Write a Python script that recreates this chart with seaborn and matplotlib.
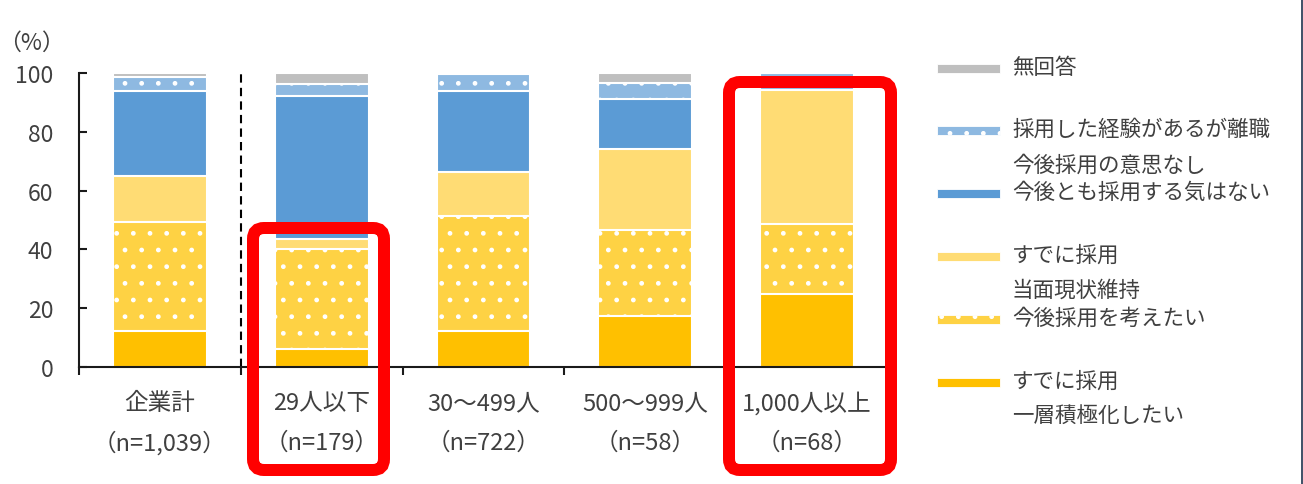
import numpy as np
import matplotlib
matplotlib.use("Agg")
import matplotlib.pyplot as plt
from matplotlib.patches import FancyBboxPatch, Rectangle
from matplotlib.lines import Line2D
from matplotlib.transforms import IdentityTransform, blended_transform_factory
import seaborn as sns

# ---- data -------------------------------------------------------------
categories = ["企業計", "29人以下", "30～499人", "500～999人", "1,000人以上"]
sample_sizes = ["（n=1,039）", "（n=179）", "（n=722）", "（n=58）", "（n=68）"]

# shares (%) from the bottom of each bar to the top
adopted_more = [12.3, 6.1, 12.3, 17.2, 25.0]      # すでに採用・一層積極化したい
considering = [36.9, 34.1, 39.2, 29.3, 23.5]      # 当面現状維持・今後採用を考えたい
adopted_keep = [15.9, 3.4, 14.9, 27.6, 45.6]      # すでに採用（現状維持）
no_intention = [28.8, 48.6, 27.6, 17.2, 0.0]      # 今後とも採用する気はない
left_job = [4.6, 3.9, 5.5, 5.2, 5.9]              # 採用した経験があるが離職
no_answer = [1.5, 3.9, 0.5, 3.4, 0.0]             # 無回答

series = [adopted_more, considering, adopted_keep, no_intention, left_job, no_answer]
colors = ["#ffc000", "#fed244", "#ffdc74", "#5b9bd5", "#8eb9e1", "#bfbfbf"]
hatches = [None, ".", None, None, ".", None]

y_ticks = [0, 20, 40, 60, 80, 100]

legend_lines = [
    ["無回答"],
    ["採用した経験があるが離職"],
    ["今後採用の意思なし", "今後とも採用する気はない"],
    ["すでに採用"],
    ["当面現状維持", "今後採用を考えたい"],
    ["すでに採用", "一層積極化したい"],
]
legend_colors = ["#bfbfbf", "#8eb9e1", "#5b9bd5", "#ffdc74", "#fed244", "#ffc000"]
legend_hatches = [None, ".", None, None, ".", None]

# ---- style ------------------------------------------------------------
sns.set_theme(style="white")
plt.rcParams["font.family"] = ["Noto Sans CJK JP", "DejaVu Sans"]
TEXT = "#404040"
W, H = 1303, 485

fig = plt.figure(figsize=(W / 100, H / 100), dpi=100)
ax = fig.add_axes([79 / W, 1 - 368 / H, (888 - 79) / W, (368 - 74) / H])

# stacked bars: draw cumulative totals, tallest first
cum = np.cumsum(np.array(series), axis=0)
for i in range(len(series) - 1, -1, -1):
    sns.barplot(x=categories, y=cum[i], order=categories, color=colors[i],
                saturation=1, width=0.58, edgecolor="white", linewidth=1.5,
                hatch=hatches[i], ax=ax)

ax.set_xlim(-0.5, len(categories) - 0.5)
ax.set_ylim(0, 100)
ax.set_yticks(y_ticks)
ax.set_yticklabels([str(t) for t in y_ticks])
ax.set_xticks(np.arange(len(categories) + 1) - 0.5)
ax.set_xticklabels([])
ax.set_xlabel("")
ax.set_ylabel("")

for side in ["top", "right"]:
    ax.spines[side].set_visible(False)
for side in ["left", "bottom"]:
    ax.spines[side].set_color("#1a1a1a")
    ax.spines[side].set_linewidth(1.5)

ax.tick_params(axis="y", direction="in", length=6, width=1.5, color="#1a1a1a",
               labelsize=16.5, labelcolor=TEXT, pad=18.5, left=True)
ax.tick_params(axis="x", direction="out", length=5.5, width=1.5, color="#1a1a1a",
               bottom=True)

# separator between the overall total and the size groups
ax.axvline(0.5, 0, 1, color="black", lw=1.5, ls=(0, (4, 2.5)))

# two-line category labels under the bars
trans = blended_transform_factory(ax.transData, ax.transAxes)
for i, (c, n) in enumerate(zip(categories, sample_sizes)):
    ax.text(i, -(404 - 368) / 294, c, transform=trans, ha="center", va="center",
            fontsize=17, color=TEXT)
    ax.text(i, -(443 - 368) / 294, n, transform=trans, ha="center", va="center",
            fontsize=17, color=TEXT)

fig.text(31 / W, 1 - 43 / H, "（%）", ha="center", va="center", fontsize=16.5,
         color=TEXT)

# legend, drawn in pixel coordinates
ident = IdentityTransform()
patch_y = [69, 131.5, 194.5, 257, 320, 383]
text_y = [[68], [130], [166, 193], [256], [291, 319], [382, 416]]
for lines, col, hat, py, tys in zip(legend_lines, legend_colors, legend_hatches,
                                    patch_y, text_y):
    fig.add_artist(Rectangle((937, H - py - 4.5), 63, 9, facecolor=col,
                             edgecolor="white", linewidth=0.6, hatch=hat,
                             transform=ident))
    for line, ty in zip(lines, tys):
        fig.text(1012 / W, 1 - ty / H, line, ha="left", va="center",
                 fontsize=15.5, color=TEXT)

# red highlight frames
for x0, x1, y0, y1 in [(253, 384, 229, 471), (729, 891, 83, 471)]:
    fig.add_artist(FancyBboxPatch((x0, H - y1), x1 - x0, y1 - y0,
                                  boxstyle="round,pad=0,rounding_size=11",
                                  facecolor="none", edgecolor="#ff0000",
                                  linewidth=12 * 0.72, transform=ident))

# right frame edge
fig.add_artist(Line2D([1301.5, 1301.5], [0, H], color="#44546a", lw=3 * 0.72,
                      transform=ident))

fig.savefig("out.png", dpi=100, facecolor="white")
